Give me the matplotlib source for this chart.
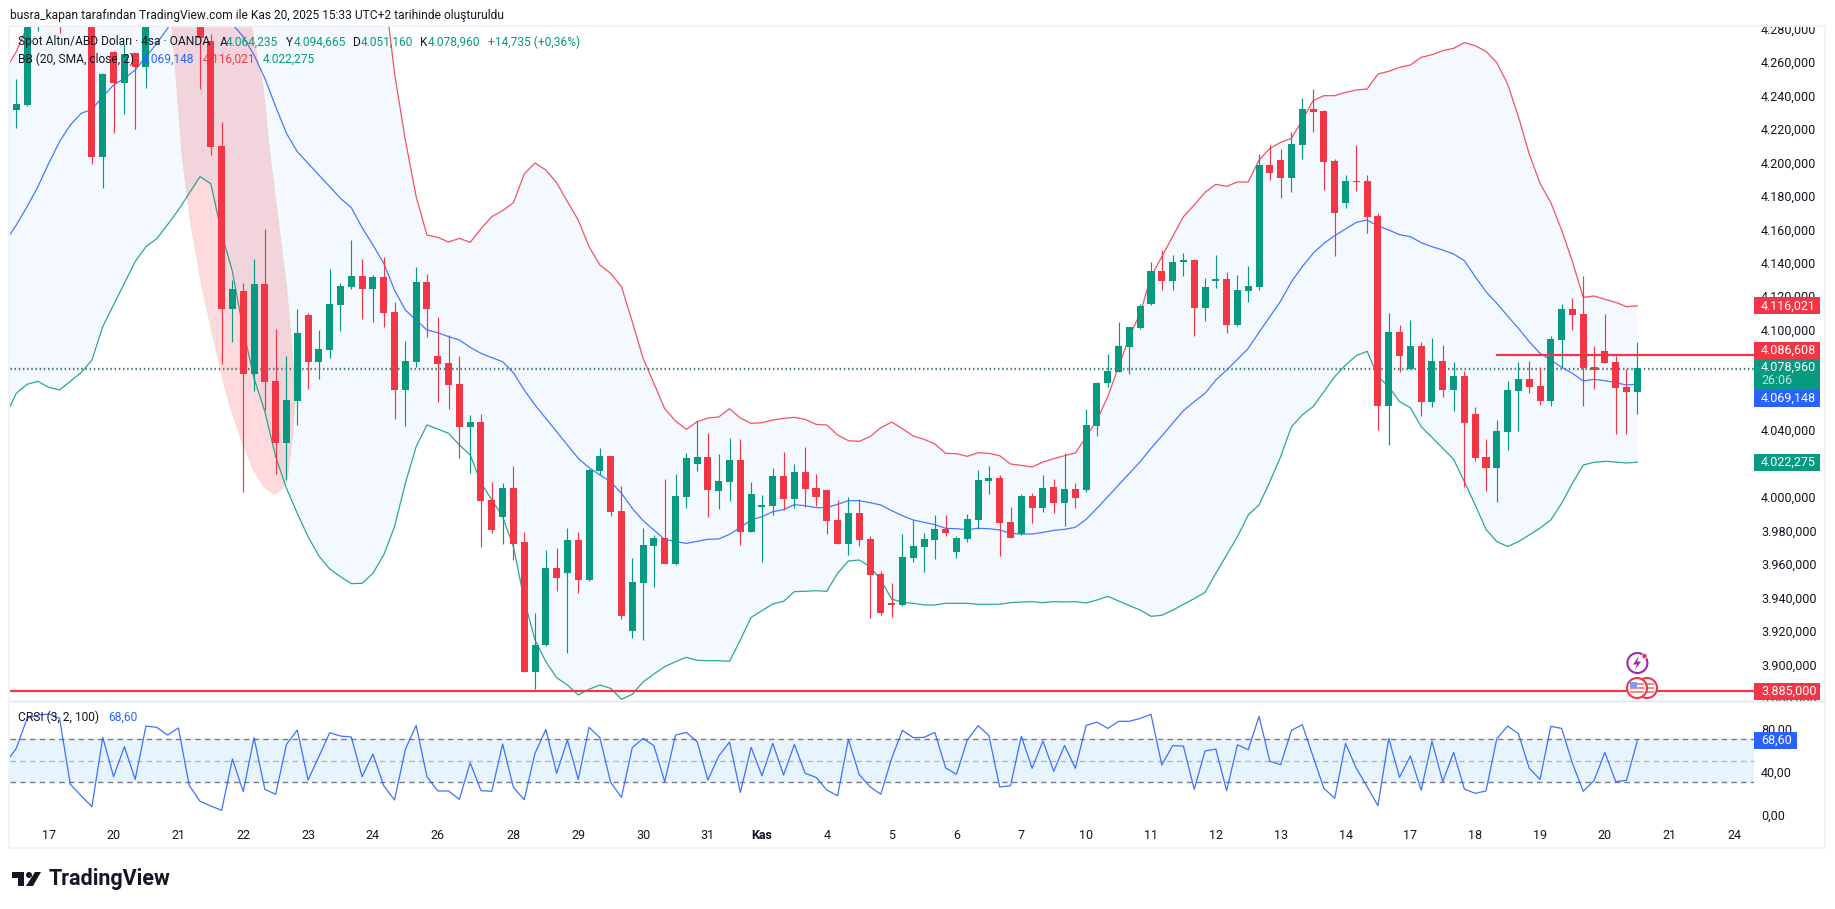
import matplotlib
matplotlib.use("Agg")
import matplotlib.pyplot as plt
import numpy as np
from matplotlib.patches import Circle, Polygon, Rectangle
from matplotlib.ticker import FuncFormatter

plt.rcParams['font.family'] = ['Roboto', 'DejaVu Sans']

W, H = 1835, 909
RED = '#F23645'
GREEN = '#089981'
BLUE = '#2962FF'
DARK = '#131722'

# 4h candles, bars above the pane are rough guesses
opens = [4233.8, 4236.8, 4305, 4318, 4330, 4300, 4325, 4320, 4205.6, 4268.2, 4250, 4267.6, 4259.6, 4300, 4320, 4340, 4335, 4310, 4275.2, 4212,
         4114, 4125, 4075.4, 4129.2, 4071, 4034, 4059, 4110.6, 4082.6, 4089.8, 4116.6, 4127.4, 4134, 4126.2, 4133.4, 4112.4, 4065.6, 4082.4, 4130.4, 4086,
         4081.8, 4069.2, 4043.4, 4046.4, 3999.6, 3989.4, 4006.8, 3974.4, 3896.4, 3912.6, 3958.8, 3955.8, 3975.6, 3951.6, 4017, 4026, 3993, 3921, 3949.8, 3972,
         3976.8, 3961.2, 4001.4, 4021.2, 4025.4, 4005, 4010.4, 4023.6, 3980.4, 3995.4, 3996, 4014, 4000.2, 4016.4, 4006.8, 4005.6, 3987.6, 3973.2, 3991.8, 3976.2,
         3955.2, 3937.8, 3936.6, 3964.8, 3971.4, 3975.6, 3982.2, 3968.4, 3976.2, 3987.6, 4011, 4012.8, 3986.4, 3979.2, 4002, 3994.8, 4007.4, 3997.8, 4006.2, 4005.6,
         4044, 4069.8, 4076.4, 4091.4, 4102.8, 4117.2, 4137, 4131, 4142.4, 4143.6, 4114.8, 4131, 4132.2, 4104.6, 4125, 4127.4, 4200.6, 4203.6, 4192.8, 4212.6,
         4234.2, 4233, 4203, 4177.8, 4191, 4191, 4170, 4056, 4100.4, 4078.2, 4092, 4058.4, 4083, 4065.6, 4074, 4051.2, 4025.4, 4018.8, 4040.4, 4065,
         4072.2, 4068, 4059, 4095.6, 4114.2, 4111.2, 4079.4, 4089, 4082.4, 4067.4, 4064.235]
highs = [4252, 4320, 4325, 4340, 4345, 4340, 4345, 4330, 4256, 4269, 4273, 4268, 4315, 4330, 4345, 4360, 4345, 4315, 4279, 4226.4,
         4131.6, 4129.6, 4144.2, 4162, 4102, 4086, 4114.2, 4111.6, 4101.6, 4138.2, 4129.6, 4155.6, 4144.2, 4134.6, 4145.2, 4118.4, 4095, 4139.4, 4135.2, 4109.4,
         4098.6, 4086, 4050.6, 4051.2, 4010.4, 4009.8, 4020, 3980.4, 3931.8, 3969.6, 3970.8, 3982.8, 3980.4, 4018.2, 4030.8, 4026, 4008, 3964.8, 3982.8, 3978.6,
         4012.2, 4015.2, 4027.8, 4047, 4039.8, 4027.2, 4036.8, 4036.2, 4010.4, 4002.6, 4018.8, 4028.4, 4021.2, 4031.4, 4015.2, 4005.6, 3999.6, 4001.4, 4000.2, 3978,
         3957, 3949.8, 3979.2, 3987.6, 3979.8, 3990.6, 3990.6, 3978, 3991.2, 4017.6, 4020, 4014.6, 3995.4, 4003.2, 4003.8, 4014.6, 4012.2, 4027.8, 4009.8, 4054.2,
         4070.4, 4087.2, 4106.4, 4103.4, 4117.2, 4142.4, 4149.6, 4146.6, 4147.8, 4144.2, 4132.8, 4146.6, 4136.4, 4134.6, 4140, 4207.2, 4212.6, 4210.2, 4220.4, 4240.8,
         4246.2, 4233.6, 4204.2, 4194.6, 4212.6, 4194.6, 4171.8, 4111.8, 4104.6, 4107.6, 4094.4, 4096.8, 4092.6, 4082.4, 4077, 4055.4, 4036.2, 4047.6, 4071, 4082.4,
         4083, 4079.4, 4098, 4117.2, 4120.8, 4134, 4092, 4111.2, 4086, 4078.2, 4094.665]
lows = [4223, 4236, 4281, 4295, 4280, 4295, 4300, 4201.4, 4187, 4220, 4231, 4222.4, 4247, 4295, 4315, 4325, 4300, 4246, 4206.8, 4081.2,
        4094.6, 4004.6, 4065.2, 4053.6, 4015.4, 4011.8, 4044.8, 4066.4, 4072.4, 4085, 4101.2, 4126.2, 4108.2, 4106.4, 4103.4, 4048.2, 4044, 4079.4, 4097.4, 4058.4,
        4054.2, 4024.8, 4015.8, 3971.4, 3979.8, 3973.2, 3963.6, 3896.4, 3886.2, 3912, 3945, 3907.8, 3943.8, 3951, 4014.6, 3990, 3928.2, 3916.8, 3915.6, 3947.4,
        3961.2, 3960.6, 3994.8, 4017, 3989.4, 3994.2, 3999, 3972.6, 3980.4, 3962.4, 3990.6, 3993.6, 3994.8, 3995.6, 3996, 3979.2, 3973.2, 3966.6, 3972, 3928.8,
        3930.6, 3929.4, 3936, 3962.4, 3956.4, 3964.2, 3978, 3964.8, 3974.4, 3982.2, 4003.2, 3966, 3976.8, 3978.6, 3985.8, 3992.4, 3991.8, 3984, 3994.8, 4004.4,
        4038, 4067.4, 4076.4, 4075.2, 4102.2, 4116.6, 4125.6, 4125.6, 4134, 4098, 4107, 4126.8, 4099.8, 4104, 4118.4, 4125.6, 4191.6, 4180.8, 4184.4, 4204.2,
        4220.4, 4185.6, 4146, 4174.8, 4185, 4159.8, 4041.6, 4032.6, 4076.4, 4078.2, 4050, 4055.4, 4061.4, 4053, 4007.4, 4023, 4005, 3998.4, 4029.6, 4041,
        4063.8, 4056.6, 4056, 4079.4, 4101.6, 4056, 4066.2, 4081.8, 4039.2, 4039.2, 4051.16]
closes = [4237.2, 4310, 4318, 4330, 4300, 4325, 4330, 4205.6, 4255.2, 4250, 4267.2, 4259.6, 4300, 4320, 4340, 4335, 4310, 4276.6, 4211.6, 4114,
          4126.2, 4075.4, 4129.2, 4070.6, 4034, 4059.6, 4099.8, 4082.6, 4090, 4117.2, 4128, 4134, 4126.2, 4133.4, 4111.8, 4065.6, 4083, 4130.4, 4114.2, 4081.2,
          4068.6, 4043.4, 4046.4, 3999, 3981.6, 4006.8, 3973.2, 3896.4, 3912.6, 3958.8, 3952.8, 3975.6, 3951.6, 4017.6, 4026, 3992.4, 3930, 3950.4, 3972.6, 3976.8,
          3961.2, 4002, 4024.8, 4025.4, 4005.6, 4011, 4023.6, 3980.4, 4003.2, 3996.6, 4014, 4000.2, 4016.4, 4006.2, 4001.4, 3987, 3973.2, 3991.8, 3975.6, 3954.6,
          3931.8, 3936.6, 3965.4, 3972, 3976.2, 3982.2, 3979.8, 3976.8, 3988.2, 4011.6, 4012.8, 3985.8, 3976.8, 4002, 3994.8, 4006.8, 3997.8, 4006.2, 4000.8, 4044.6,
          4069.8, 4077, 4092, 4103.4, 4116, 4137, 4131, 4142.4, 4143.6, 4114.8, 4127.4, 4132.2, 4104.6, 4125.6, 4128, 4200.6, 4195.8, 4192.8, 4213.2, 4234.2,
          4232.4, 4202.4, 4171.8, 4191, 4190.4, 4169.4, 4056, 4100.4, 4086, 4092, 4058.4, 4083, 4065.6, 4074, 4045.8, 4024.8, 4018.8, 4041, 4065.6, 4072.2,
          4067.4, 4059, 4096.2, 4114.2, 4110.6, 4078.8, 4077.6, 4081.8, 4066.8, 4064.4, 4078.96]

# Bollinger bands, first value belongs to the bar left of the pane
bb_upper = [4258, 4268.6, 4283.6, 4300, 4320, 4340, 4360, 4375, 4385, 4395, 4405, 4415, 4425, 4435, 4445, 4455, 4465, 4475, 4480, 4485,
            4490, 4490, 4485, 4480, 4470, 4460, 4450, 4440, 4430, 4420, 4410, 4400, 4385, 4370, 4350, 4310, 4255.6, 4215.6, 4181.6, 4158.6,
            4157.2, 4154.4, 4156.6, 4154.2, 4162.4, 4169.6, 4173.2, 4178, 4195.2, 4201.8, 4197.6, 4190, 4178.6, 4167.6, 4151.6, 4140.6, 4135.6, 4127.6, 4106.6, 4084.6,
            4069.6, 4054.4, 4047, 4042, 4046.6, 4048.8, 4049.4, 4054.4, 4048.8, 4045.6, 4046, 4047.6, 4048.6, 4049.2, 4048, 4045, 4044.6, 4038.6, 4035.2, 4034.8,
            4037.6, 4043, 4046.4, 4042.4, 4038, 4036, 4033.2, 4027.6, 4027.4, 4025.8, 4028, 4027.6, 4026.2, 4021.2, 4020.4, 4019.4, 4022.4, 4024.4, 4026.2, 4027.8,
            4037.6, 4047.6, 4061.6, 4079.6, 4097.6, 4111.6, 4133.6, 4145.6, 4157.6, 4169.6, 4176.6, 4184.2, 4189, 4187.8, 4190.4, 4190.4, 4203.6, 4210.6, 4214.2, 4216.6,
            4227.6, 4239.2, 4242.2, 4242.2, 4244.2, 4245.6, 4246.2, 4255.2, 4256.8, 4259.2, 4260.6, 4265.2, 4266.8, 4269.2, 4270.6, 4274, 4272.2, 4268.8, 4262, 4249.2,
            4229.6, 4207.2, 4189.6, 4178, 4161.6, 4142.6, 4121.2, 4122, 4120, 4118.2, 4115.6, 4116.021]
bb_basis = [4155, 4164.6, 4175.6, 4187.6, 4201.6, 4214.6, 4224.6, 4231.6, 4234, 4241.6, 4248.6, 4252.6, 4257.6, 4265.6, 4273.6, 4282.6, 4293, 4303, 4308, 4300,
            4295, 4285, 4277.6, 4266.6, 4252.6, 4235.6, 4219.6, 4208.6, 4201.6, 4194.6, 4187.6, 4180.6, 4175, 4163, 4152.6, 4141.6, 4125.6, 4113.6, 4107.6, 4101.6,
            4100, 4097.6, 4095.6, 4091.2, 4087.6, 4085, 4082.6, 4076, 4065.6, 4056.6, 4048.6, 4040.6, 4032.6, 4024.6, 4019, 4014.6, 4010.6, 4003.6, 3994.6, 3987.2,
            3981.6, 3976, 3974.6, 3973.6, 3974.8, 3976, 3976.2, 3979, 3983.2, 3987.6, 3989.6, 3992.6, 3993.8, 3996.8, 3996.2, 3995, 3995, 3997, 3999.2, 3999.2,
            3998, 3996.6, 3993.2, 3990.2, 3987.6, 3986.2, 3984.8, 3982.6, 3982.4, 3981.8, 3982.6, 3982.4, 3981.6, 3979.6, 3979.2, 3979.2, 3980.2, 3981.4, 3982, 3983.2,
            3988, 3994.6, 4001.6, 4008.6, 4015.6, 4022.6, 4030.6, 4038, 4045.6, 4053.2, 4058.6, 4063.6, 4071.6, 4077.6, 4084, 4090.6, 4100.2, 4109.6, 4119, 4130.6,
            4139.6, 4147.6, 4153.6, 4158.2, 4162.2, 4166.2, 4167.6, 4164, 4161.6, 4158.8, 4157.6, 4154, 4151.6, 4149.6, 4147.2, 4143.2, 4133.6, 4124.6, 4117.6, 4110,
            4102.6, 4094.6, 4087.6, 4083.6, 4079.2, 4075.6, 4071, 4072, 4071.2, 4070, 4068.6, 4069.148]
bb_lower = [4050, 4063.6, 4069, 4070.8, 4067.2, 4065.6, 4070.8, 4076, 4083.6, 4103.6, 4116.6, 4129.6, 4142.6, 4151.6, 4156.4, 4164.8, 4173.6, 4183.6, 4193.6, 4189.4,
            4159.6, 4136.6, 4101.6, 4072.6, 4052.6, 4025.6, 4006.6, 3991.6, 3977.6, 3966, 3958.2, 3953.6, 3949.4, 3949.6, 3955.6, 3966.6, 3983.6, 4009.6, 4031.6, 4044.6,
            4042.2, 4039.6, 4032.6, 4026.6, 4010, 3999.6, 3989.6, 3971.6, 3939.6, 3915.6, 3902.6, 3893, 3888.6, 3882.6, 3886, 3888.6, 3886.6, 3880, 3883, 3890.4,
            3895.2, 3899.6, 3902.6, 3905.2, 3903.4, 3903.2, 3903.2, 3902.8, 3915.6, 3929.2, 3933.2, 3937.2, 3938.8, 3944.6, 3944.8, 3945.2, 3944.8, 3955.6, 3963, 3963.6,
            3959.6, 3951.6, 3940.2, 3938.2, 3937.6, 3936.6, 3936.6, 3937.6, 3937.6, 3937.6, 3937, 3937, 3937, 3938, 3938.4, 3938.6, 3938, 3938.6, 3938.4, 3938.6,
            3937.8, 3939.6, 3941.8, 3939, 3936.2, 3933.6, 3929.8, 3930.4, 3933.4, 3937, 3940.4, 3944.2, 3955.6, 3966.6, 3977.6, 3990.6, 3996.6, 4010.6, 4025.6, 4043.6,
            4050.6, 4055.6, 4064.6, 4073.6, 4080.6, 4086.2, 4088.8, 4073.6, 4067.6, 4058.6, 4055, 4043.6, 4037.2, 4030.6, 4024, 4010.6, 3996.6, 3982, 3974.6, 3971.7,
            3974.6, 3978.6, 3982.8, 3987.6, 3997.6, 4009.6, 4020.6, 4022.2, 4022.8, 4022.4, 4021.8, 4022.275]

crsi = [48, 61.6, 89.6, 92.6, 93.6, 89.6, 28.2, 17.6, 7.4, 71.9, 35.3, 63.2, 32.8, 82.4, 81.2, 74, 80.6, 27.2, 12.4, 8,
        4, 51.7, 21.4, 71.6, 23.5, 18.9, 65.4, 78.7, 32.2, 53.9, 76.2, 73.1, 72.2, 35.3, 56.4, 26.9, 13.6, 60.7, 83, 35.3,
        22, 22, 14.2, 48.3, 22.3, 21.7, 65.7, 25.4, 13.9, 57, 79.3, 38.4, 69.4, 32.8, 81.2, 71.6, 30, 16.1, 62.3, 71,
        64.1, 30.7, 74, 76.5, 67.9, 32.2, 54.5, 67.5, 20.7, 62.6, 36.2, 66.3, 36.8, 65.4, 38.4, 34.7, 22.9, 17.6, 70, 37.2,
        26, 18.9, 52.3, 78.4, 71.6, 71.9, 76.5, 43.4, 37.5, 69.4, 82.7, 73.7, 25.7, 26.9, 72.8, 43.1, 68.5, 40.3, 64.4, 43.1,
        83, 86.1, 80.2, 86.8, 86.8, 89.5, 93.3, 46.2, 64.1, 63.8, 23.5, 59.2, 61, 22.3, 65, 60.4, 91.4, 49.6, 46.5, 78.4,
        83.7, 53.9, 24.4, 15.2, 66.3, 43.1, 26, 8.3, 71, 34.7, 54.5, 22.6, 68.2, 30.7, 57.9, 23.8, 19.8, 22, 70.6, 82.4,
        75.3, 43.1, 32.8, 82.1, 80.2, 47.7, 21.7, 31.6, 57.9, 30.7, 31.9, 68.6]

time_pos = [3, 9, 15, 21, 27, 33, 39, 46, 52, 58, 64, 69, 75, 81, 87, 93, 99, 105, 111, 117, 123, 129, 135, 141, 147, 153, 159]
time_labels = ['17', '20', '21', '22', '23', '24', '26', '28', '29', '30', '31', 'Kas', '4', '5', '6', '7', '10', '11', '12', '13', '14', '17', '18', '19', '20', '21', '24']
price_ticks = list(range(3880, 4281, 20))

# drawn shapes, in bar / price
curve_x = [14.0, 14.38, 14.84, 15.3, 16.07, 17.15, 18.54, 19.10, 19.77, 20.70, 21.93, 22.86, 23.85, 24.71, 25.17, 25.63, 25.79, 25.57, 25.02, 24.25, 23.48, 22.86, 21.78, 21.0]
curve_y = [4300, 4283.6, 4247.6, 4207.6, 4167.6, 4127.6, 4087.6, 4071.6, 4055.6, 4037.6, 4017.6, 4007.6, 4002.8, 4006.6, 4015.6, 4041.6, 4061.6, 4087.6, 4127.6, 4167.6, 4207.6, 4247.6, 4283.6, 4300]
support_level = 3885.0
resist_level = 4086.608
resist_start = 137
last_close = 4078.96
alert_level = 4078.0


def tr_num(v, dec=3):
    s = f"{v:,.{dec}f}"
    return s.replace(',', '#').replace('.', ',').replace('#', '.')


fig = plt.figure(figsize=(W / 100, H / 100), dpi=100, facecolor='white')
px = matplotlib.transforms.Affine2D().scale(1 / W, -1 / H).translate(0, 1) + fig.transFigure


def make_ax(left, right, top, bottom):
    return fig.add_axes([left / W, 1 - bottom / H, (right - left) / W, (bottom - top) / H])


ax = make_ax(10, 1754, 26, 701)
ax_rsi = make_ax(10, 1754, 701, 820)
ax_rsi.set_zorder(2)
bar_x = np.arange(151)
band_x = np.arange(-1, 151)
ax.set_xlim(-0.583, 160.8)
ax.set_ylim(3879, 4284)
ax_rsi.set_xlim(-0.583, 160.8)
ax_rsi.set_ylim(-5, 105.7)

ax.fill_between(band_x, bb_lower, bb_upper, color='#2196F3', alpha=0.05, lw=0, zorder=1)
ax.add_patch(Polygon(np.column_stack([curve_x, curve_y]), closed=True, facecolor=RED, alpha=0.18,
                     edgecolor='#FF9800', lw=0.5, zorder=1.5))
ax.axhline(last_close, color=GREEN, lw=1, ls=(0, (1, 2)), zorder=1.8)
ax.axhline(alert_level, color=RED, lw=1, ls=(0, (1, 2)), zorder=1.8)
ax.plot(band_x, bb_upper, color=RED, lw=0.9, alpha=0.85, zorder=2)
ax.plot(band_x, bb_basis, color=BLUE, lw=0.9, alpha=0.85, zorder=2)
ax.plot(band_x, bb_lower, color=GREEN, lw=0.9, alpha=0.85, zorder=2)

opens_a = np.array(opens)
closes_a = np.array(closes)
colors = [GREEN if c >= o else RED for o, c in zip(opens, closes)]
ax.vlines(bar_x, lows, highs, colors=colors, lw=0.85, zorder=3)
ax.bar(bar_x, np.abs(closes_a - opens_a), bottom=np.minimum(opens_a, closes_a), width=0.65,
       color=colors, lw=0, zorder=3.1)

ax.axhline(support_level, color=RED, lw=1.6, zorder=4)
ax.plot([resist_start, 160.8], [resist_level, resist_level], color=RED, lw=1.6, zorder=4)

# price labels sit a little above their level, more so higher up the scale
ax.set_xticks([])
ax.set_yticks([])
for v in price_ticks:
    ax.annotate(tr_num(v), xy=(1, v), xycoords=ax.get_yaxis_transform(), xytext=(5, (v - 3900) * 0.0052),
                textcoords='offset points', va='center', color=DARK, fontsize=9, annotation_clip=False)
for s in ax.spines.values():
    s.set_visible(False)

ax_rsi.axhspan(30, 70, color='#2196F3', alpha=0.1, lw=0)
ax_rsi.axhline(70, color='#787B86', lw=1, ls=(0, (4, 3)))
ax_rsi.axhline(30, color='#787B86', lw=1, ls=(0, (4, 3)))
ax_rsi.axhline(50, color='#787B86', lw=1, ls=(0, (4, 3)), alpha=0.5)
ax_rsi.plot(band_x, crsi, color=BLUE, lw=0.9, alpha=0.9)
ax_rsi.yaxis.tick_right()
ax_rsi.set_yticks([0, 40, 80])
ax_rsi.yaxis.set_major_formatter(FuncFormatter(lambda v, p: tr_num(v, 2)))
ax_rsi.tick_params(axis='y', length=0, pad=5, labelsize=9, labelcolor=DARK)
ax_rsi.set_xticks(time_pos)
ax_rsi.set_xticklabels(time_labels)
ax_rsi.tick_params(axis='x', length=0, pad=6.5, labelsize=9, labelcolor=DARK)
ax_rsi.get_xticklabels()[time_labels.index('Kas')].set_fontweight('bold')
for s in ax_rsi.spines.values():
    s.set_visible(False)

# frame, pane divider and a cover for the clipped tick label
fig.add_artist(Rectangle((1754, 701), 71, 8, transform=px, facecolor='white', edgecolor='none', zorder=1))
fig.add_artist(Rectangle((9, 26), 1816, 822, transform=px, facecolor='none', edgecolor='#F0F3FA', lw=1.5, zorder=1))
fig.add_artist(plt.Line2D([10, 1825], [701, 701], transform=px, color='#E0E3EB', lw=1, zorder=3))


def put(x, y, s, color=DARK, size=8.65, **kw):
    kw.setdefault('va', 'center')
    fig.text(x, y, s, transform=px, color=color, fontsize=size, zorder=6, **kw)


put(10, 15, 'busra_kapan tarafından TradingView.com ile Kas 20, 2025 15:33 UTC+2 tarihinde oluşturuldu')
put(18, 42, 'Spot Altın/ABD Doları · 4sa · OANDA')
for lx, lab, vx, val in [(219.5, 'A', 226, tr_num(opens[-1])), (286, 'Y', 293.4, tr_num(highs[-1])),
                         (353, 'D', 360.6, tr_num(lows[-1])), (420, 'K', 428, tr_num(closes[-1]))]:
    put(lx, 42, lab)
    put(vx, 42, val, GREEN)
put(487.5, 42, '+14,735 (+0,36%)', GREEN)
put(18, 59, 'BB (20, SMA, close, 2)')
put(142, 59, tr_num(bb_basis[-1]), BLUE)
put(203, 59, tr_num(bb_upper[-1]), RED)
put(263, 59, tr_num(bb_lower[-1]), GREEN)
put(18, 717, 'CRSI (3, 2, 100)')
put(108.6, 717, tr_num(crsi[-1], 2), BLUE)

# price tags on the right axis, tag_y is where the tag sits, not its value
tag_values = [bb_upper[-1], resist_level, bb_basis[-1], bb_lower[-1], support_level]
tag_y = [4116.021, 4089.3, 4060.6, 4022.275, 3885.0]
tag_colors = [RED, RED, BLUE, GREEN, RED]
for val, yy, col in zip(tag_values, tag_y, tag_colors):
    pix_y = 691 - (yy - support_level) * 1.667
    fig.add_artist(Rectangle((1754, pix_y - 8.5), 66, 17, transform=px, facecolor=col, edgecolor='none', zorder=5))
    put(1761, pix_y, tr_num(val), 'white', 9)
fig.add_artist(Rectangle((1754, 359), 66, 31, transform=px, facecolor=GREEN, edgecolor='none', zorder=5))
put(1761, 367, tr_num(last_close), 'white', 9)
put(1761, 381, '26:06', '#BFE3DC', 9)
fig.add_artist(Rectangle((1754, 732), 43, 17, transform=px, facecolor=BLUE, edgecolor='none', zorder=5))
put(1761, 740.5, tr_num(crsi[-1], 2), 'white', 9)

# event icons near the last bar
for cx in [1647, 1637]:
    fig.add_artist(Circle((cx, 688), 10, transform=px, facecolor='white', edgecolor=RED, lw=1.5, zorder=5))
    for sy in [684, 688, 692]:
        fig.add_artist(Rectangle((cx - 7, sy - 1), 14, 2.2, transform=px, facecolor='#F28B93', edgecolor='none', zorder=5))
    fig.add_artist(Rectangle((cx - 7, 682), 6.5, 6, transform=px, facecolor='#7C9CF5', edgecolor='none', zorder=5))
fig.add_artist(Circle((1637.4, 663), 10, transform=px, facecolor='white', edgecolor='#9C27B0', lw=1.5, zorder=5))
fig.add_artist(Polygon([(1639, 656), (1633, 664.5), (1637, 664.5), (1635, 670), (1641, 661.5), (1637.3, 661.5)],
                       closed=True, transform=px, facecolor='#9C27B0', edgecolor='none', zorder=5))
fig.add_artist(Circle((1644.5, 656), 2.6, transform=px, facecolor=RED, edgecolor='white', lw=0.5, zorder=5))

# logo
for xy in [[(12, 872), (24, 872), (24, 886), (18, 886), (18, 878), (12, 878)],
           [(35, 872), (41, 872), (33, 886), (26, 886)]]:
    fig.add_artist(Polygon(xy, closed=True, transform=px, facecolor=DARK, edgecolor='none', zorder=5))
fig.add_artist(Circle((29, 875), 3, transform=px, facecolor=DARK, edgecolor='none', zorder=5))
put(49, 879, 'TradingView', DARK, 15.5, fontweight='bold')

fig.savefig('out.png', dpi=100, facecolor='white')
